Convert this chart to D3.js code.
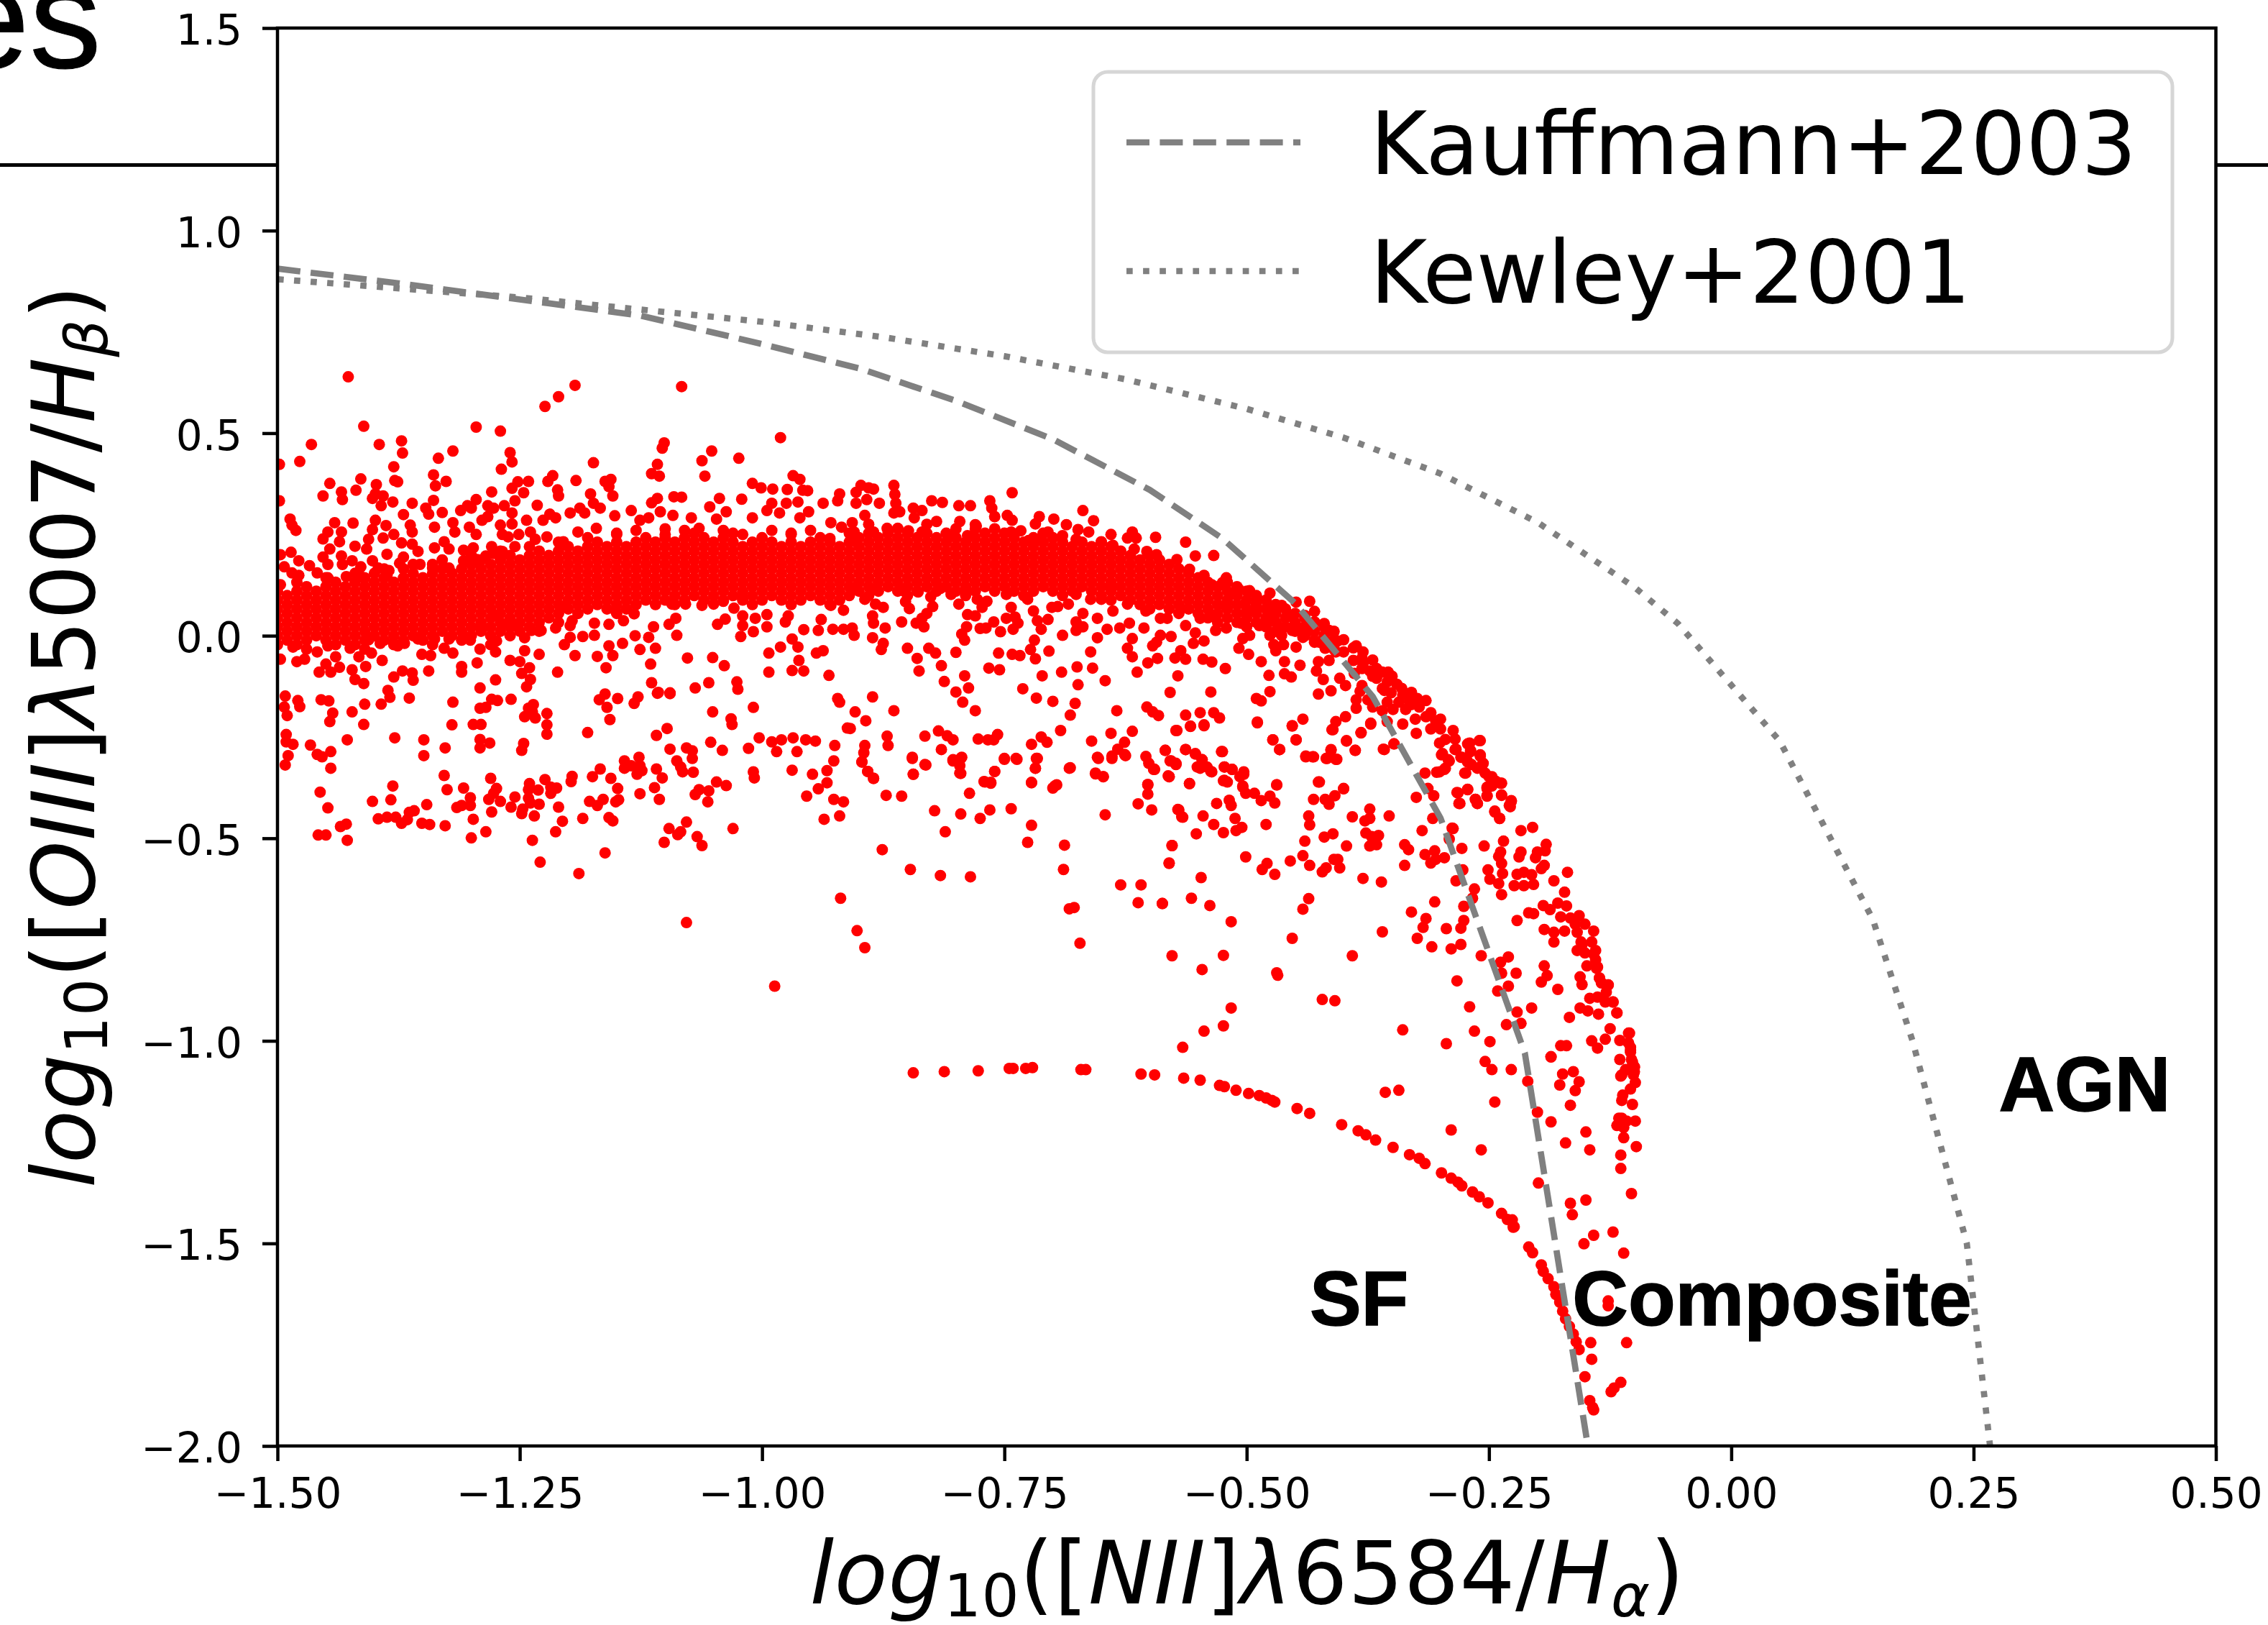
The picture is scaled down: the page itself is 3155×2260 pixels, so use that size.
<!DOCTYPE html>
<html lang="en">
<head>
<meta charset="UTF-8">
<title>BPT diagram</title>
<style>
body { margin: 0; background: #fff; }
text { font-family: 'DejaVu Sans', sans-serif; fill: #000; }
.axis path, .axis line { stroke: #000; stroke-width: 4.5; }
.axis text { font-size: 58px; }
.region { font-family: 'Liberation Sans', sans-serif; font-weight: bold; font-size: 107.5px; stroke: #000; stroke-width: 1.5; }
</style>
</head>
<body>
<svg width="3155" height="2260"></svg>
<script src="https://d3js.org/d3.v7.min.js"></script>
<script>
// x ticks and y ticks
var xTicks = [-1.5, -1.25, -1, -0.75, -0.5, -0.25, 0, 0.25, 0.5];
var yTicks = [-2, -1.5, -1, -0.5, 0, 0.5, 1, 1.5];

// demarcation curves
var kauffmannX = [-1.5, -1.375, -1.25, -1.125, -1, -0.9, -0.8, -0.7, -0.6, -0.525, -0.45, -0.37, -0.3, -0.213, -0.148];
var kauffmannY = [0.906, 0.87, 0.83, 0.79, 0.72, 0.66, 0.58, 0.485, 0.36, 0.24, 0.08, -0.15, -0.45, -1.03, -2.0];
var kewleyX = [-1.5, -1.25, -1.125, -1, -0.875, -0.75, -0.625, -0.5, -0.4, -0.3, -0.2, -0.1, -0.055, 0.05, 0.146, 0.187, 0.243, 0.267];
var kewleyY = [0.88, 0.835, 0.805, 0.775, 0.737, 0.69, 0.633, 0.56, 0.489, 0.40, 0.28, 0.12, 0.03, -0.26, -0.70, -1.0, -1.5, -2.0];

// scatter: flat x,y lists, one per part of the cloud
var upperOutliers = [-1.427,.639,-1.411,.517,-1.465,.472,-1.395,.472,-1.372,.481,-1.371,.451,-1.477,.43,-1.498,.423,-1.38,.417,-1.334,.438,-1.319,.456,-1.295,.515,-1.27,.505,-1.224,.566,-1.21,.59,-1.193,.618,-1.083,.615,-1.26,.452,-1.258,.429,-1.269,.411,-1.174,.427,-1.101,.476,-1.103,.463,-1.052,.456,-1.062,.432,-1.024,.438,-.981,.489,-1.108,.423,-1.114,.4,-1.106,.394,-1.059,.394,-.968,.395,-.961,.386,
-1.446,.376,-1.453,.345,-1.434,.355,-1.433,.336,-1.419,.359,-1.414,.387,-1.498,.333,-1.398,.373,-1.399,.35,-1.402,.339,-1.391,.345,-1.393,.321,-1.381,.33,-1.379,.383,-1.376,.38,-1.361,.327,-1.339,.397,-1.326,.381,-1.337,.37,-1.339,.334,-1.279,.355,-1.258,.364,-1.252,.38,-1.241,.381,-1.246,.353,-1.255,.333,-1.295,.336,-1.283,.321,-1.277,.315,-1.304,.321,-1.232,.322,-1.221,.381,-1.216,.395,-1.211,.36,-1.21,.345,-1.192,.383,-1.177,.35,-1.162,.381,-1.156,.386,-1.158,.368,-1.154,.345,-1.114,.328,-1.108,.339,-1.091,.343,-1.083,.342,-1.044,.339,-1.054,.318,-1.021,.337,-1.01,.376,-1.001,.365,-.989,.362,-.974,.361,-.958,.359,-.953,.358,-.99,.327,-.995,.309,-.975,.327,-.963,.33,-.937,.327,-.92,.35,-.922,.333];

var upperFringe = [-1.347,.315,-1.344,.3,-1.33,.304,-1.37,.299,-1.422,.278,-1.441,.279,-1.487,.288,-1.485,.273,-1.481,.26,-1.399,.285,-1.388,.272,-1.363,.273,-1.361,.256,-1.338,.268,-1.311,.309,-1.3,.315,-1.319,.279,-1.317,.256,-1.302,.268,-1.295,.25,-1.289,.285,-1.283,.294,-1.266,.321,-1.258,.303,-1.27,.273,-1.258,.276,-1.268,.25,-1.243,.285,-1.226,.285,-1.219,.3,-1.213,.291,-1.198,.303,-1.188,.315,-1.183,.303,-1.174,.327,-1.167,.315,-1.152,.296,-1.135,.309,-1.126,.285,-1.117,.291,-1.105,.306,-1.092,.297,-1.073,.291,-1.065,.265,-1.047,.288,-1.037,.306,-1.01,.291,-.982,.303,-.961,.291,-.952,.306,-.929,.279,-.918,.268,
-1.448,.256,-1.453,.239,-1.434,.256,-1.436,.232,-1.446,.214,-1.42,.221,-1.402,.262,-1.406,.238,-1.391,.241,-1.38,.25,-1.408,.214,-1.387,.201,-1.372,.229,-1.361,.226,-1.355,.208,-1.37,.194,-1.338,.217,-1.328,.232,-1.323,.214,-1.308,.211,-1.298,.217,-1.279,.22,-1.262,.244,-1.251,.25,-1.239,.256,-1.255,.22,-1.234,.238,-1.222,.244,-1.205,.232,-1.19,.256,-1.171,.265,-1.486,.206,-1.497,.2,-1.453,.194,-1.434,.197,-1.478,.185,-1.467,.173,-1.448,.176,-1.433,.176,-1.423,.185,-1.402,.185,-1.493,.17,-1.353,.176,-1.374,.179,-1.396,.167,-1.414,.17,-1.385,.161,-1.294,.188,-1.34,.167,-1.323,.167,-1.277,.203,-1.478,.149,-1.429,.146,-1.448,.143,-1.414,.146,-1.497,.126,-1.387,.149,-1.485,.155,-1.459,.155,-1.308,.185,-1.285,.197,-1.268,.208,-1.15,.25,-1.13,.26,-1.1,.25,-1.08,.26,-1.04,.26,-1.02,.25,-.99,.26,-.97,.25,-.95,.26,-.93,.24,
-.898,.371,-.89,.365,-.885,.362,-.864,.371,-.863,.349,-.903,.354,-.903,.327,-.892,.336,-.879,.327,-.862,.327,-.894,.297,-.864,.303,-.858,.306,-.844,.315,-.835,.309,-.825,.333,-.814,.329,-.797,.321,-.785,.321,-.765,.333,-.763,.315,-.742,.353,-.843,.291,-.82,.282,-.796,.282,-.78,.274,-.747,.297,-.742,.285,-.714,.294,-.718,.276,-.699,.288,-.686,.274,-.669,.309,-.658,.284,-.674,.262,-.705,.256,-.64,.25,-.618,.256,-.614,.241,-.623,.241,-.594,.243,-.563,.231,-.553,.197,-.534,.198,-.572,.188,-.603,.208,-.593,.2,-.65,.232,-.638,.223,-.616,.214,-.885,.256,-.871,.265,-.86,.265,-.849,.259,-.835,.256,-.801,.244,-.788,.247,-.779,.271,-.76,.294,-.733,.259,-.743,.256,-.725,.235,-.714,.238,-.69,.247,-.676,.238,-.663,.256,-.905,.256,-.907,.279,-.903,.232];

var lowerFringeLeft = [-1.497,-.058,-1.48,-.064,-1.472,-.058,-1.484,-.028,-1.459,-.04,-1.448,-.025,-1.457,-.09,-1.44,-.052,-1.45,-.07,-1.445,-.09,-1.436,-.078,-1.425,-.031,-1.416,-.052,-1.403,-.043,-1.392,-.061,-1.409,-.076,-1.423,-.084,-1.42,-.108,-1.411,-.118,-1.38,-.102,-1.371,-.087,-1.361,-.092,-1.36,-.11,-1.344,-.087,-1.386,-.135,-1.394,-.019,-1.38,-.019,-1.369,-.019,-1.351,-.046,-1.342,-.049,-1.328,-.031,-1.319,-.043,-1.31,-.076,-1.31,-.09,-1.294,-.067,-1.275,-.04,-1.274,-.013,-1.291,-.033,-1.301,-.011,-1.275,-.109,-1.291,-.129,-1.26,-.061,-1.25,-.064,-1.245,-.037,-1.23,-.046,-1.24,-.079,-1.248,-.093,-1.239,-.108,-1.243,-.126,-1.211,-.09,-1.193,-.049,-1.204,-.022,-1.17,-.051,-1.158,-.025,-1.154,-.049,-1.161,-.079,-1.144,-.019,-1.131,0,-1.126,-.034,-1.11,-.031,-1.115,-.07,-1.077,-.055,-1.051,-.054,-1.039,-.074,-1.114,-.116,-1.107,-.14,-1.095,-.141,-1.069,-.129,-1.055,-.116,-1.026,-.114,-1.025,-.132,-.993,-.043,-.993,-.09,-.969,-.086,-.957,-.087,-.931,-.098,-.981,-.028,-.969,-.008,-.963,-.028,-.962,-.061,-.944,-.043,-.937,-.037,-.922,-.155,
-1.093,.078,-1.079,.078,-1.062,.075,-1.05,.078,-1.04,.085,-1.029,.068,-1.02,.093,-1.112,.022,-1.117,-.004,-1.096,.028,-1.088,.001,-1.089,.043,-1.046,.028,-1.038,.041,-1.02,.049,-1.022,-.002,-1.009,.01,-.995,.052,-.976,.034,-.973,.049,-.957,.015,-.939,.04,-.942,.013,-.927,.016,-.929,.075,-.916,.063,-.916,.016,-.995,.022,-1.02,.025,-1.007,.043,-1.158,.028,-1.173,.031,-1.132,.054,-1.143,.037,-1.151,.061,-1.196,.037,-1.198,.025,-1.173,.001,-1.185,-.002,-1.198,-.004,-1.213,.019,-1.205,.072,-1.255,.025,-1.238,.013,-1.228,.013,-1.245,-.005,-1.277,.052,-1.406,-.01,-1.376,-.025,-1.355,-.008,-1.338,-.008,-1.323,-.008,-1.308,-.002,-1.289,.019,-1.262,.028];

var lowerFringeMid = [-.903,.12,-.885,.114,-.854,.111,-.839,.108,-.816,.117,-.79,.114,-.748,.102,-.726,.09,-.676,.102,-.695,.072,-.661,.09,-.64,.12,-.65,.09,-.669,.055,-.894,.09,-.883,.078,-.875,.07,-.886,.049,-.885,.031,-.873,.019,-.905,.001,-.907,.019,-.886,-.005,-.875,-.019,-.877,-.034,-.85,-.031,-.828,-.031,-.821,-.043,-.84,-.056,-.838,-.087,-.815,-.074,-.8,-.041,-.791,-.011,-.794,.004,-.789,.022,-.852,.084,-.848,.067,-.826,.096,-.824,.072,-.83,.055,-.835,.043,-.856,.034,-.841,.031,-.833,.022,-.805,.102,-.797,.078,-.778,.09,-.768,.085,-.773,.07,-.788,.052,-.78,.049,-.761,.034,-.775,.018,-.769,.019,-.754,.01,-.748,.043,-.743,.07,-.739,.046,-.736,.031,-.741,.016,-.72,.061,-.716,.037,-.712,.016,-.705,.04,-.701,.07,-.684,.078,-.676,.034,-.676,.013,-.669,.022,-.654,.043,-.654,-.005,-.644,.016,-.631,.019,-.621,.031,-.638,.061,-.623,.078,-.606,.019,-.604,.061,-.589,.043,-.582,.043,-.568,.067,-.548,.043,-.563,.025,-.553,.007,-.544,-.013,-.532,.013,-.521,.019,-.555,-.019,-.589,.001,-.578,-.002,-.593,-.016,-.597,-.025,-.618,-.007,-.623,-.031,-.618,-.052,-.69,.001,-.719,-.011,-.723,-.034,-.718,-.057,-.704,-.038,-.756,-.043,-.742,-.046,-.734,-.049,-.766,-.08,-.755,-.084,-.661,-.04,-.675,-.077,-.659,-.08,-.691,-.09,-.711,-.099,-.674,-.121,-.646,-.111,-.613,-.09,-.602,-.067,-.592,-.056,-.574,-.055,-.568,-.037,-.563,-.058,-.545,-.058,-.536,-.065,-.522,-.081,-.571,-.099,-.579,-.14,-.537,-.139,-.49,-.155,-.485,-.161,-.476,-.138,-.477,-.098,-.461,-.094,-.454,-.102,-.426,-.144,-.413,-.136,
-.812,-.113,-.791,-.099,-.787,-.129,-.8,-.139,-.793,-.164,-.78,-.185,-.731,-.131,-.717,-.154,-.7,-.162,-.677,-.167,-.682,-.196,-.886,-.151,-.864,-.185,-.904,-.188,-.893,-.21,-.909,-.229,-.634,-.185,-.603,-.176,-.597,-.188,-.591,-.197,-.563,-.196,-.548,-.19,-.534,-.19,-.528,-.203,-.544,-.22,-.558,-.224,-.573,-.234,-.489,-.213,-.453,-.222,-.442,-.206,-.411,-.232,-.408,-.212,-.398,-.2,-.372,-.216,-.382,-.239,-.397,-.259,-.388,-.283,-.348,-.267,-.358,-.281,-.473,-.257,-.449,-.257,-.466,-.281,-.526,-.286,-.439,-.299,-.432,-.299,-.418,-.303,-.413,-.283,-.407,-.305,
-.871,-.248,-.87,-.271,-.894,-.271,-.895,-.289,-.897,-.312,-.891,-.335,-.885,-.352,-.845,-.3,-.832,-.318,-.844,-.342,-.832,-.248,-.818,-.235,-.809,-.247,-.803,-.257,-.815,-.281,-.803,-.306,-.794,-.3,-.796,-.339,-.777,-.255,-.767,-.257,-.761,-.257,-.757,-.244,-.75,-.303,-.738,-.303,-.76,-.335,-.77,-.361,-.764,-.362,-.722,-.268,-.712,-.25,-.706,-.263,-.716,-.303,-.718,-.327,-.692,-.234,-.722,-.362,-.698,-.371,-.683,-.327,-.66,-.26,-.654,-.3,-.64,-.241,-.626,-.263,-.618,-.236,-.639,-.297,-.626,-.293,-.633,-.28,-.656,-.339,-.648,-.348,-.604,-.298,-.601,-.315,-.595,-.33,-.584,-.283,-.579,-.309,-.573,-.315,-.581,-.346,-.563,-.281,-.602,-.368,-.559,-.365,-.553,-.292,-.546,-.306,-.548,-.327,-.536,-.336,-.523,-.324,-.515,-.33,-.503,-.342,-.523,-.357,-.504,-.371,-.469,-.368,-.425,-.361,-.4,-.377];

var bandTail = [-.559,.164,-.544,.149,-.521,.143,-.525,.131,-.536,.126,-.508,.114,-.497,.111,-.476,.105,-.449,.083,-.435,.085,-.464,.075,-.489,.09,-.479,.067,-.517,.102,-.521,.072,-.533,.049,-.502,.078,-.5,.055,-.491,.064,-.506,.031,-.487,.025,-.479,.031,-.472,.049,-.457,.049,-.468,.025,-.43,.034,-.434,.013,-.453,.013,-.445,.019,-.415,.013,-.476,.001,-.464,.001,-.442,-.004,-.406,-.013,-.425,-.016,-.387,-.025,-.504,-.007,-.497,.001,-.508,-.031,-.498,-.046,-.472,-.022,-.462,-.022,-.47,-.037,-.485,-.064,-.461,-.064,-.445,-.073,-.449,-.028,-.43,-.016,-.419,-.031,-.408,-.04,-.426,-.064,-.415,-.061,-.39,-.061,-.381,-.055,-.428,-.087,-.421,-.108,-.404,-.105,-.398,-.123,-.381,-.081,-.389,-.093,-.373,-.087,-.366,-.081,-.354,-.09,-.366,-.105,-.355,-.114,-.381,-.123,-.383,-.137,-.387,-.158,-.375,-.158,-.387,-.179,-.37,-.176,-.358,-.135,-.351,-.141,-.339,-.146,-.324,-.155,-.355,-.164,-.343,-.164,-.332,-.164,-.36,-.185,-.349,-.182,-.336,-.182,-.322,-.176,-.355,-.212,-.339,-.218,-.326,-.206,-.325,-.241,
-.3,-.206,-.287,-.234,-.295,-.256,-.301,-.265,-.272,-.267,-.259,-.259,-.285,-.281,-.298,-.291,-.269,-.286,-.292,-.306,-.279,-.3,-.273,-.306,-.259,-.297,-.256,-.315,-.268,-.318,-.295,-.327,-.275,-.339,-.301,-.336,-.262,-.327,-.254,-.339,-.247,-.348,-.237,-.364,-.243,-.359,-.252,-.374,-.247,-.371,-.272,-.38,-.282,-.388,-.252,-.395,-.237,-.394,-.264,-.404,-.28,-.414,-.262,-.414,-.227,-.409,-.229,-.419,-.244,-.435,-.239,-.451,-.288,-.475,
-.44,.05,-.43,.06,-.42,.03,-.41,.01,-.4,-.01,-.41,-.03,-.4,-.04,-.39,-.03,-.38,-.04,-.37,-.06,-.38,-.07,-.37,-.1,-.36,-.09,-.35,-.1,-.345,-.12,-.36,-.13,-.34,-.13,-.33,-.14,-.33,-.17,-.315,-.16,-.31,-.19,-.315,-.2,-.305,-.21,-.3,-.23,-.31,-.23,-.285,-.255];

var midScatter = [-1.492,-.149,-1.493,-.176,-1.479,-.16,-1.477,-.175,-1.49,-.197,-1.455,-.158,-1.447,-.161,-1.443,-.191,-1.446,-.212,-1.423,-.188,-1.41,-.169,-1.411,-.219,-1.393,-.169,-1.384,-.152,-1.364,-.154,-1.319,-.164,-1.291,-.179,-1.285,-.177,-1.279,-.157,-1.273,-.16,-1.259,-.157,-1.241,-.179,-1.236,-.17,-1.237,-.188,-1.245,-.2,-1.234,-.203,-1.222,-.192,-1.222,-.22,-1.222,-.243,-1.32,-.22,-1.298,-.219,-1.29,-.219,-1.18,-.239,-1.168,-.158,-1.162,-.144,-1.16,-.177,-1.157,-.207,-1.149,-.155,-1.132,-.167,-1.128,-.151,-1.108,-.142,-1.095,-.143,-1.109,-.246,-1.098,-.229,-1.051,-.188,-1.032,-.205,-1.031,-.219,-1.009,-.177,-.92,-.164,-.912,-.228,
-1.491,-.244,-1.491,-.262,-1.484,-.268,-1.466,-.27,-1.489,-.296,-1.459,-.293,-1.454,-.299,-1.445,-.286,-1.492,-.319,-1.445,-.327,-1.428,-.257,-1.379,-.252,-1.349,-.257,-1.349,-.296,-1.327,-.277,-1.291,-.256,-1.291,-.277,-1.281,-.265,-1.246,-.266,-1.248,-.283];

var lowerBranch = [-1.328,-.345,-1.28,-.352,-1.325,-.38,-1.308,-.376,-1.381,-.371,-1.383,-.405,-1.402,-.409,-1.456,-.386,-1.448,-.425,-1.396,-.452,-1.387,-.448,-1.378,-.448,-1.372,-.463,-1.366,-.454,-1.364,-.436,-1.359,-.432,-1.346,-.417,-1.351,-.463,-1.343,-.466,-1.327,-.469,-1.435,-.471,-1.429,-.465,-1.458,-.492,-1.45,-.492,-1.428,-.505,-1.315,-.424,-1.31,-.419,-1.301,-.4,-1.301,-.419,-1.298,-.453,-1.279,-.435,-1.282,-.404,-1.277,-.389,-1.274,-.377,-1.27,-.409,-1.255,-.398,-1.259,-.423,-1.247,-.428,-1.248,-.439,-1.235,-.445,-1.24,-.365,-1.241,-.38,-1.231,-.381,-1.241,-.401,-1.239,-.413,-1.23,-.416,-1.224,-.355,-1.218,-.389,-1.218,-.374,-1.212,-.376,-1.21,-.423,-1.206,-.458,-1.213,-.484,-1.285,-.484,-1.3,-.499,-1.237,-.505,-1.229,-.559,-1.189,-.587,-1.162,-.536,-1.185,-.451,-1.196,-.347,-1.197,-.36,-1.175,-.348,-1.167,-.329,-1.156,-.352,-1.149,-.377,-1.142,-.309,-1.142,-.327,-1.135,-.321,-1.127,-.3,-1.129,-.342,-1.124,-.333,-1.126,-.321,-1.109,-.329,-1.103,-.351,-1.111,-.375,-1.126,-.39,-1.106,-.404,-1.178,-.409,-1.17,-.419,-1.164,-.404,-1.151,-.41,-1.148,-.405,-1.158,-.449,-1.154,-.457,-1.095,-.28,-1.088,-.309,-1.084,-.324,-1.082,-.336,-1.071,-.337,-1.072,-.303,-1.078,-.277,-1.072,-.284,-1.053,-.263,-1.041,-.283,-1.014,-.278,-1.003,-.252,-.99,-.262,-.985,-.286,-.98,-.257,-.968,-.252,-.964,-.286,-.955,-.257,-.945,-.26,-.925,-.271,-.926,-.309,-.933,-.333,-.969,-.332,-.948,-.342,-1.009,-.336,-1.008,-.351,-1.047,-.361,-1.037,-.37,-1.055,-.383,-1.065,-.38,-1.069,-.392,-1.056,-.41,-.933,-.363,-.942,-.378,-.954,-.396,-.926,-.404,-.916,-.41,-.92,-.445,-.936,-.453,-1.03,-.476,-1.078,-.46,-1.096,-.476,-1.084,-.484,-1.087,-.491,-1.101,-.51,-1.067,-.496,-1.062,-.518,-1.078,-.708,-.987,-.865,-.919,-.648,
-.897,-.311,-.891,-.335,-.885,-.352,-.845,-.303,-.831,-.319,-.844,-.342,-.872,-.394,-.856,-.396,-.803,-.309,-.795,-.303,-.796,-.321,-.795,-.34,-.75,-.305,-.737,-.305,-.76,-.335,-.771,-.36,-.764,-.364,-.786,-.389,-.822,-.432,-.795,-.44,-.775,-.451,-.765,-.43,-.743,-.427,-.811,-.484,-.876,-.528,-.847,-.577,-.816,-.592,-.785,-.595,-.722,-.468,-.726,-.51,-.722,-.363,-.718,-.327,-.717,-.303,-.7,-.376,-.696,-.368,-.682,-.326,-.688,-.517,-.689,-.577,-.683,-.674,-.678,-.671,-.672,-.759,-.577,-.79,-.646,-.442,-.656,-.341,-.648,-.348,-.653,-.303,-.639,-.303,-.625,-.296,-.602,-.367,-.602,-.391,-.612,-.415,-.598,-.43,-.596,-.329,-.58,-.348,-.573,-.317,-.577,-.518,-.58,-.561,-.63,-.615,-.609,-.615,-.612,-.659,-.587,-.661,-.57,-.43,-.567,-.447,-.902,-.728,-.894,-.77];

var rightScatter = [-.584,-.283,-.563,-.281,-.553,-.291,-.546,-.306,-.551,-.324,-.541,-.324,-.537,-.335,-.525,-.286,-.523,-.324,-.515,-.33,-.503,-.336,-.507,-.348,-.524,-.358,-.52,-.361,-.504,-.374,-.501,-.389,-.492,-.389,-.485,-.407,-.476,-.396,-.471,-.413,-.469,-.368,-.559,-.365,-.578,-.309,-.573,-.318,-.58,-.348,-.596,-.33,-.571,-.429,-.566,-.448,-.545,-.445,-.531,-.414,-.518,-.406,-.516,-.419,-.534,-.466,-.552,-.489,-.524,-.486,-.512,-.451,-.511,-.481,-.505,-.473,-.48,-.466,-.577,-.518,-.58,-.562,-.501,-.546,-.484,-.577,-.479,-.562,-.471,-.589,-.455,-.556,-.442,-.543,-.435,-.567,-.44,-.507,-.42,-.497,-.411,-.489,-.397,-.519,-.436,-.445,-.435,-.467,-.431,-.404,-.419,-.404,-.415,-.416,-.409,-.395,-.4,-.378,-.426,-.361,-.473,-.257,-.466,-.281,-.449,-.257,-.439,-.297,-.431,-.299,-.417,-.303,-.413,-.281,-.408,-.305,-.397,-.26,-.388,-.283,-.382,-.24,-.412,-.232,-.372,-.218,-.453,-.223,-.489,-.215,-.572,-.234,-.558,-.223,-.544,-.222,-.373,-.428,-.391,-.447,-.353,-.445,-.378,-.457,-.373,-.451,-.377,-.487,-.371,-.496,-.364,-.493,-.373,-.519,-.366,-.516,-.337,-.516,-.333,-.528,-.41,-.552,-.406,-.552,-.404,-.573,-.418,-.573,-.422,-.583,-.38,-.599,-.361,-.608,-.337,-.567,-.316,-.54,-.306,-.531,-.31,-.561,-.305,-.552,-.296,-.548,-.278,-.525,-.255,-.519,-.235,-.507,-.291,-.502,-.287,-.476,-.319,-.481,-.308,-.451,-.325,-.399,-.313,-.377,-.307,-.395,-.359,-.28,-.348,-.267,-.316,-.339,-.304,-.337,-.296,-.33,-.291,-.309,-.299,-.294,-.284,-.28,-.278,-.3,-.27,-.265,-.26,-.259,-.269,-.283,-.259,-.294,-.272,-.312,-.257,-.318,-.274,-.339,-.25,-.348,-.238,-.364,-.283,-.387,-.272,-.379,-.252,-.377,-.252,-.396,-.237,-.393,-.281,-.414,-.264,-.404,-.262,-.414,-.227,-.407,-.228,-.422,-.244,-.433,-.239,-.451,-.217,-.481,-.205,-.473,-.191,-.515,-.192,-.531,-.2,-.534,-.202,-.548,-.217,-.534,-.219,-.546,-.238,-.534,-.24,-.545,-.237,-.562,-.236,-.587,-.251,-.578,-.249,-.601,-.24,-.612,-.224,-.617,-.221,-.589,-.214,-.584,-.206,-.59,-.214,-.617,-.204,-.614,-.193,-.567,-.196,-.575,-.169,-.584,-.183,-.605,-.172,-.633,-.237,-.639,-.277,-.578,-.284,-.605,-.265,-.625,-.267,-.648,-.276,-.668,-.276,-.703,-.279,-.722,-.306,-.657,-.33,-.682,-.315,-.698,-.318,-.72,-.294,-.723,-.324,-.747,-.309,-.768,-.289,-.773,-.279,-.762,-.36,-.731,-.391,-.79,-.436,-.649,-.442,-.675,-.453,-.747,-.516,-.706,-.538,-.666,-.557,-.648,-.547,-.597,-.587,-.661,-.524,-.789,-.546,-.824,-.469,-.832,-.468,-.838,-.422,-.898,-.409,-.901,-.516,-.919,-.524,-.963,-.544,-.976,-.339,-.973,-.294,-1.007,-.27,-.916,-.265,-.976,-.249,-1.002,-.254,-1.051,-.247,-1.071,-.227,-1.071,-.232,-.96,-.217,-.957,-.221,-.929,-.206,-.919,-.283,-.852,-.258,-.79,-.238,-.806,-.23,-.793,-.237,-.833,-.222,-.833,-.241,-.877,-.23,-.865,-.193,-.815,-.19,-.839,-.196,-.855,-.179,-.873,-.156,-.842,-.154,-.861,-.167,-.942,-.156,-.919,-.148,-.926,-.137,-.934,-.125,-.97,-.13,-.996,-.144,-1,-.138,-1.018,-.176,-1.012,-.17,-1.012,-.186,-1.04,-.357,-1.127,-.343,-1.122,-.244,-1.151,-.289,-1.22,-.258,-1.269];

var outerEdge = [-.221,-.703,-.209,-.684,-.204,-.686,-.194,-.666,-.187,-.676,-.179,-.66,-.17,-.667,-.193,-.725,-.183,-.732,-.183,-.756,-.172,-.729,-.176,-.694,-.166,-.697,-.157,-.691,-.151,-.712,-.161,-.712,-.159,-.732,-.142,-.729,-.155,-.756,-.144,-.756,-.159,-.777,-.151,-.783,-.14,-.777,-.149,-.815,-.14,-.8,-.138,-.818,-.136,-.845,-.134,-.857,-.127,-.862,-.129,-.88,-.146,-.895,-.138,-.892,-.13,-.904,-.122,-.904,-.118,-.931,-.154,-.762,-.142,-.786,-.139,-.821,-.136,-.845,-.127,-.862,-.122,-.904,-.118,-.931,-.105,-.981,-.104,-1.016,-.1,-1.064,-.115,-1.046,-.106,-.981,-.115,-.999,-.106,-1.005,-.104,-1.028,-.102,-1.052,-.1,-1.076,-.113,-1.084,-.174,-1.082,-.163,-1.076,-.104,-1.023,-.103,-1.046,-.1,-1.065,-.101,-1.084,-.114,-1.087,-.109,-1.071,-.099,-1.103,-.104,-1.119,-.112,-1.134,-.113,-1.147,-.102,-1.157,-.116,-1.191,-.113,-1.191,-.099,-1.198,-.108,-1.198,-.118,-1.209,-.111,-1.214,-.111,-1.239,-.098,-1.261,-.114,-1.282,-.114,-1.315,-.103,-1.377,
-.186,-1.039,-.21,-1.1,-.177,-1.109,-.157,-1.101,-.161,-1.123,-.166,-1.159,-.2,-1.176,-.186,-1.2,-.15,-1.225,-.171,-1.252,-.146,-1.269,-.199,-1.351,-.15,-1.393,-.166,-1.401,-.164,-1.429,-.142,-1.48,-.152,-1.501,-.122,-1.472,-.111,-1.524,-.127,-1.642,-.127,-1.654,-.145,-1.745,-.108,-1.745,-.144,-1.786,-.151,-1.829,-.114,-1.843,-.121,-1.857,-.124,-1.866,-.146,-1.888,-.143,-1.905,-.142,-1.911];

var bottomArc = [-.844,-1.079,-.812,-1.076,-.777,-1.074,-.745,-1.068,-.741,-1.068,-.728,-1.068,-.721,-1.066,-.671,-1.071,-.666,-1.071,-.609,-1.082,-.595,-1.084,-.565,-1.092,-.566,-1.016,-.548,-1.097,-.528,-1.11,-.523,-1.113,-.511,-1.122,-.498,-1.13,-.487,-1.135,-.48,-1.141,-.474,-1.147,-.471,-1.151,-.448,-1.167,-.435,-1.179,-.402,-1.207,-.385,-1.222,-.377,-1.232,-.367,-1.245,-.349,-1.263,-.332,-1.281,-.322,-1.29,-.316,-1.303,-.299,-1.326,-.289,-1.339,-.282,-1.349,-.278,-1.358,-.267,-1.373,-.26,-1.385,-.251,-1.4,-.237,-1.426,-.231,-1.441,-.225,-1.46,-.226,-1.442,-.224,-1.459,-.209,-1.509,-.205,-1.523,-.196,-1.553,-.194,-1.569,-.189,-1.587,-.183,-1.607,-.181,-1.626,-.177,-1.645,-.174,-1.667,-.171,-1.686,-.167,-1.705,-.163,-1.724,-.16,-1.743,-.157,-1.762];

// solid part of the band: dots cannot be told apart there, so y values are listed column by column across the blob
var solidBandColumns = [
[-1.5,-.022,0,.022,.044,.066,.088,.11],[-1.49,-.011,.011,.033,.055,.077,.099],[-1.48,-.022,0,.022,.044,.066,.088,.11,.132],[-1.47,-.033,-.011,.011,.033,.055,.077,.099,.121],[-1.46,0,.022,.044,.066,.088,.11],
[-1.45,-.011,.011,.033,.055,.077,.099,.121,.143],[-1.44,-.022,0,.022,.044,.066,.088,.11,.132],[-1.43,-.011,.011,.033,.055,.077,.099,.121],[-1.42,-.022,0,.022,.044,.066,.088,.11,.132,.154],[-1.41,-.033,-.011,.011,.033,.055,.077,.099,.121,.143],
[-1.4,0,.022,.044,.066,.088,.11,.132,.154],[-1.39,-.011,.011,.033,.055,.077,.099,.121,.143,.165],[-1.38,-.022,0,.022,.044,.066,.088,.11,.132],[-1.37,-.011,.011,.033,.055,.077,.099,.121,.143,.165],[-1.36,0,.022,.044,.066,.088,.11,.132,.154,.176],
[-1.35,-.011,.011,.033,.055,.077,.099,.121,.143],[-1.34,-.022,0,.022,.044,.066,.088,.11,.132,.154,.176],[-1.33,.011,.033,.055,.077,.099,.121,.143,.165,.187],[-1.32,0,.022,.044,.066,.088,.11,.132,.154],[-1.31,-.011,.011,.033,.055,.077,.099,.121,.143,.165],
[-1.3,0,.022,.044,.066,.088,.11,.132,.154,.176,.198],[-1.29,.011,.033,.055,.077,.099,.121,.143,.165,.187],[-1.28,-.022,0,.022,.044,.066,.088,.11,.132,.154,.176],[-1.27,.011,.033,.055,.077,.099,.121,.143,.165,.187,.209],[-1.26,0,.022,.044,.066,.088,.11,.132,.154,.176,.198],
[-1.25,.011,.033,.055,.077,.099,.121,.143,.165,.187],[-1.24,.022,.044,.066,.088,.11,.132,.154,.176,.198,.22],[-1.23,.011,.033,.055,.077,.099,.121,.143,.165,.187,.209],[-1.22,.044,.066,.088,.11,.132,.154,.176,.198],[-1.21,.033,.055,.077,.099,.121,.143,.165,.187,.209,.231],
[-1.2,.066,.088,.11,.132,.154,.176,.198,.22],[-1.19,.055,.077,.099,.121,.143,.165,.187,.209],[-1.18,.066,.088,.11,.132,.154,.176,.198,.22,.242],[-1.17,.077,.099,.121,.143,.165,.187,.209,.231],[-1.16,.066,.088,.11,.132,.154,.176,.198,.22],
[-1.15,.055,.077,.099,.121,.143,.165,.187,.209,.231,.253],[-1.14,.066,.088,.11,.132,.154,.176,.198,.22],[-1.13,.077,.099,.121,.143,.165,.187,.209,.231],[-1.12,.088,.11,.132,.154,.176,.198,.22,.242],[-1.11,.077,.099,.121,.143,.165,.187,.209,.231],
[-1.1,.088,.11,.132,.154,.176,.198,.22,.242,.264],[-1.09,.077,.099,.121,.143,.165,.187,.209,.231],[-1.08,.088,.11,.132,.154,.176,.198,.22,.242],[-1.07,.099,.121,.143,.165,.187,.209,.231,.253],[-1.06,.088,.11,.132,.154,.176,.198,.22,.242],
[-1.05,.099,.121,.143,.165,.187,.209,.231],[-1.04,.088,.11,.132,.154,.176,.198,.22,.242],[-1.03,.099,.121,.143,.165,.187,.209,.231,.253],[-1.02,.088,.11,.132,.154,.176,.198,.22],[-1.01,.077,.099,.121,.143,.165,.187,.209,.231],
[-1,.088,.11,.132,.154,.176,.198,.22,.242],[-.99,.099,.121,.143,.165,.187,.209,.231],[-.98,.088,.11,.132,.154,.176,.198,.22],[-.97,.077,.099,.121,.143,.165,.187,.209,.231,.253],[-.96,.088,.11,.132,.154,.176,.198,.22],
[-.95,.099,.121,.143,.165,.187,.209,.231],[-.94,.088,.11,.132,.154,.176,.198,.22,.242],[-.93,.077,.099,.121,.143,.165,.187,.209,.231],[-.92,.088,.11,.132,.154,.176,.198,.22],[-.91,.099,.121,.143,.165,.187,.209,.231,.253],
[-.9,.11,.132,.154,.176,.198,.22,.242],[-.89,.099,.121,.143,.165,.187,.209,.231,.253,.275],[-.88,.11,.132,.154,.176,.198,.22,.242],[-.87,.121,.143,.165,.187,.209,.231,.253],[-.86,.11,.132,.154,.176,.198,.22,.242,.264],
[-.85,.099,.121,.143,.165,.187,.209,.231,.253],[-.84,.11,.132,.154,.176,.198,.22,.242],[-.83,.121,.143,.165,.187,.209,.231,.253,.275],[-.82,.11,.132,.154,.176,.198,.22,.242],[-.81,.121,.143,.165,.187,.209,.231,.253],
[-.8,.11,.132,.154,.176,.198,.22,.242,.264],[-.79,.099,.121,.143,.165,.187,.209,.231],[-.78,.11,.132,.154,.176,.198,.22,.242,.264],[-.77,.121,.143,.165,.187,.209,.231,.253],[-.76,.11,.132,.154,.176,.198,.22,.242,.264],
[-.75,.121,.143,.165,.187,.209,.231,.253],[-.74,.11,.132,.154,.176,.198,.22,.242],[-.73,.099,.121,.143,.165,.187,.209,.231],[-.72,.11,.132,.154,.176,.198,.22,.242],[-.71,.121,.143,.165,.187,.209,.231,.253],
[-.7,.11,.132,.154,.176,.198,.22,.242],[-.69,.099,.121,.143,.165,.187,.209,.231],[-.68,.11,.132,.154,.176,.198,.22],[-.67,.121,.143,.165,.187,.209,.231],[-.66,.11,.132,.154,.176,.198,.22],
[-.65,.099,.121,.143,.165,.187,.209,.231],[-.64,.088,.11,.132,.154,.176,.198,.22],[-.63,.099,.121,.143,.165,.187,.209],[-.62,.088,.11,.132,.154,.176,.198],[-.61,.077,.099,.121,.143,.165,.187],
[-.6,.066,.088,.11,.132,.154,.176,.198],[-.59,.077,.099,.121,.143,.165,.187],[-.58,.066,.088,.11,.132,.154,.176],[-.57,.055,.077,.099,.121,.143,.165],[-.56,.066,.088,.11,.132,.154],
[-.55,.055,.077,.099,.121,.143],[-.54,.044,.066,.088,.11,.132],[-.53,.033,.055,.077,.099,.121],[-.52,.044,.066,.088,.11,.132],[-.51,.033,.055,.077,.099,.121],
[-.5,.022,.044,.066,.088,.11],[-.49,.033,.055,.077,.099],[-.48,.022,.044,.066,.088],[-.47,.011,.033,.055,.077],[-.46,.022,.044,.066],[-.45,.011,.033,.055],[-.44,0,.022,.044],[-.43,-.011,.011,.033],[-.42,-.022,0,.022],[-.41,-.033,-.011,.011]
];

var legendNames = ["Kauffmann+2003", "Kewley+2001"];
var regionLabels = ["SF", "Composite", "AGN"];
var regionX = [-0.435, -0.164, 0.276];
var regionY = [-1.702, -1.702, -1.173];

var svg = d3.select("svg");
var margin = {left: 386, top: 39, right: 3082.5, bottom: 2011};

var x = d3.scaleLinear().domain([-1.5, 0.5]).range([margin.left, margin.right]);
var y = d3.scaleLinear().domain([-2, 1.5]).range([margin.bottom, margin.top]);

// the slide rule line behind the plot, and the end of the slide title
svg.append("rect").attr("x", 0).attr("y", 227).attr("width", 3155).attr("height", 5).attr("fill", "#000");
svg.append("text").attr("x", 141).attr("y", 94).attr("text-anchor", "end")
    .style("font-family", "'Liberation Sans', sans-serif").style("font-size", "200px")
    .style("stroke", "#000").style("stroke-width", 1).text("es");

svg.append("rect").attr("x", margin.left).attr("y", margin.top)
    .attr("width", margin.right - margin.left).attr("height", margin.bottom - margin.top).attr("fill", "#fff");

svg.append("clipPath").attr("id", "plot").append("rect")
    .attr("x", margin.left).attr("y", margin.top)
    .attr("width", margin.right - margin.left).attr("height", margin.bottom - margin.top);

svg.selectAll(".region").data(regionLabels).enter().append("text")
    .attr("class", "region")
    .attr("x", function(d, i) { return x(regionX[i]); })
    .attr("y", function(d, i) { return y(regionY[i]); })
    .text(function(d) { return d; });

function pairs(flat) {
    var out = [];
    for (var i = 0; i < flat.length; i += 2) out.push([flat[i], flat[i + 1]]);
    return out;
}

var points = [];
[upperOutliers, upperFringe, lowerFringeLeft, lowerFringeMid, bandTail, midScatter, lowerBranch, rightScatter, outerEdge, bottomArc]
    .forEach(function(list) { points = points.concat(pairs(list)); });
solidBandColumns.forEach(function(col) {
    col.slice(1).forEach(function(v) { points.push([col[0], v]); });
});

var plot = svg.append("g").attr("clip-path", "url(#plot)");

plot.selectAll("circle").data(points).enter().append("circle")
    .attr("cx", function(d) { return x(d[0]); })
    .attr("cy", function(d) { return y(d[1]); })
    .attr("r", 8)
    .attr("fill", "#ff0000");

var line = d3.line()
    .x(function(d) { return x(d[0]); })
    .y(function(d) { return y(d[1]); });

var curves = [
    {xs: kauffmannX, ys: kauffmannY, dash: "32,14.4"},
    {xs: kewleyX, ys: kewleyY, dash: "8.7,14.4"}
];

curves.forEach(function(c) {
    plot.append("path")
        .attr("d", line(c.xs.map(function(v, i) { return [v, c.ys[i]]; })))
        .attr("fill", "none")
        .attr("stroke", "#808080")
        .attr("stroke-width", 8.7)
        .attr("stroke-dasharray", c.dash);
});

// legend
var legend = svg.append("g");
legend.append("rect")
    .attr("x", 1521).attr("y", 100).attr("width", 1501).attr("height", 390).attr("rx", 20)
    .attr("fill", "#fff").attr("fill-opacity", 0.8)
    .attr("stroke", "#d6d6d6").attr("stroke-width", 5);

legendNames.forEach(function(name, i) {
    var rowY = 198 + i * 179;
    legend.append("line")
        .attr("x1", 1567).attr("x2", 1809).attr("y1", rowY).attr("y2", rowY)
        .attr("stroke", "#808080").attr("stroke-width", 8.7)
        .attr("stroke-dasharray", curves[i].dash);
    legend.append("text")
        .attr("x", 1906).attr("y", rowY + 44)
        .style("font-size", "121px")
        .text(name);
});

// axes
var xAxis = d3.axisBottom(x).tickValues(xTicks).tickFormat(d3.format(".2f")).tickSize(21).tickPadding(24);
var yAxis = d3.axisLeft(y).tickValues(yTicks).tickFormat(d3.format(".1f")).tickSize(21).tickPadding(28);

svg.append("g").attr("class", "axis")
    .attr("transform", "translate(0," + margin.bottom + ")").call(xAxis);
var yG = svg.append("g").attr("class", "axis")
    .attr("transform", "translate(" + margin.left + ",0)").call(yAxis);
yG.selectAll("text").attr("dy", "0.39em");

svg.selectAll(".axis .domain").remove();

// spines
svg.append("rect")
    .attr("x", margin.left).attr("y", margin.top)
    .attr("width", margin.right - margin.left).attr("height", margin.bottom - margin.top)
    .attr("fill", "none").attr("stroke", "#000").attr("stroke-width", 4.5);

// math labels: text, italic, subscript
function mathLabel(sel, parts) {
    var shifted = false;
    parts.forEach(function(p) {
        var t = sel.append("tspan").text(p[0]);
        t.style("font-style", p[1] ? "italic" : "normal");
        if (p[2]) {
            t.style("font-size", "82px").attr("dy", 18);
            shifted = true;
        } else if (shifted) {
            t.attr("dy", -18);
            shifted = false;
        }
    });
}

var xLabel = svg.append("text")
    .attr("x", 1735).attr("y", 2230).attr("text-anchor", "middle").style("font-size", "121px").style("letter-spacing", "0.6px");
mathLabel(xLabel, [["log", 1], ["10", 0, 1], ["([", 0], ["NII", 1], ["]", 0], ["λ", 1], ["6584/", 0], ["H", 1], ["α", 1, 1], [")", 0]]);

var yLabel = svg.append("text")
    .attr("transform", "translate(131,1024) rotate(-90)").attr("text-anchor", "middle").style("font-size", "121px").style("letter-spacing", "0.6px");
mathLabel(yLabel, [["log", 1], ["10", 0, 1], ["([", 0], ["OIII", 1], ["]", 0], ["λ", 1], ["5007/", 0], ["H", 1], ["β", 1, 1], [")", 0]]);
</script>
</body>
</html>
